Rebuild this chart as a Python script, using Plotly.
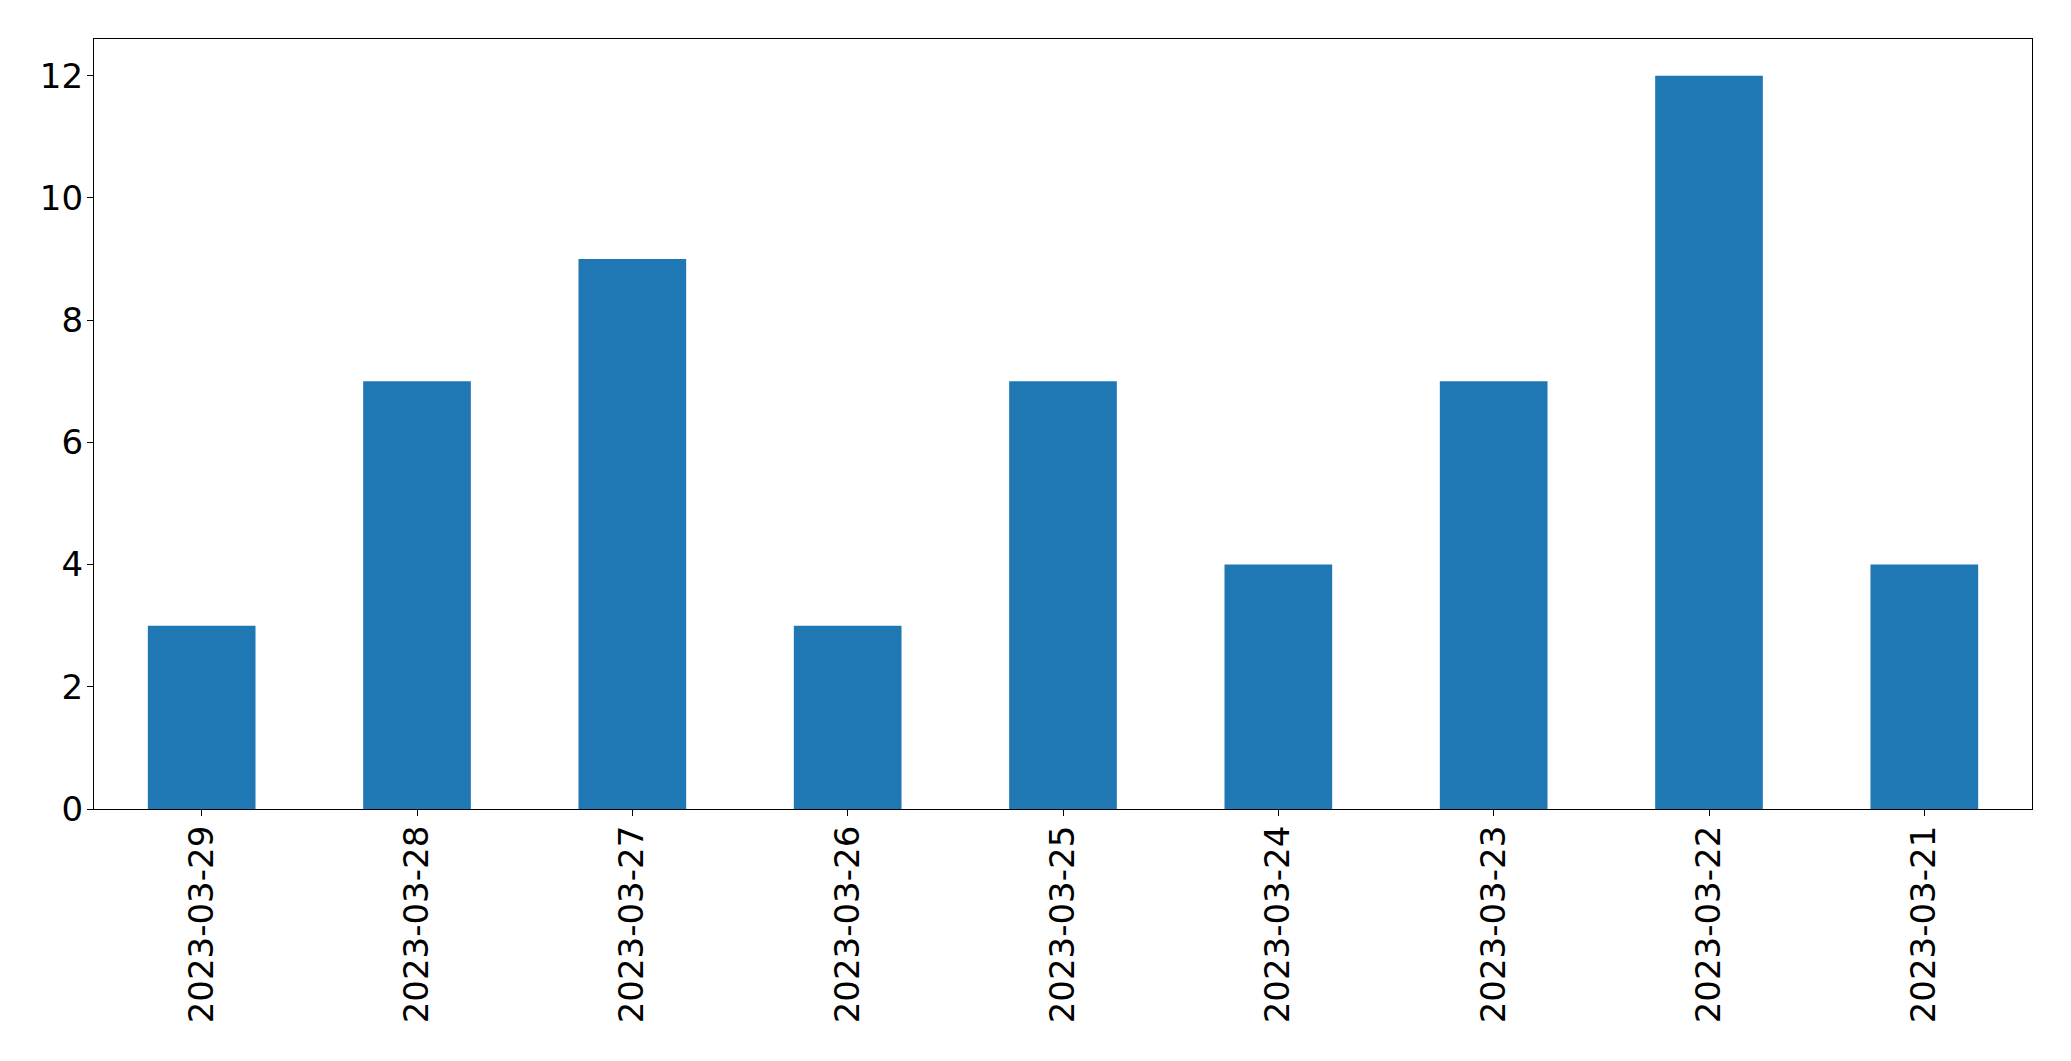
import plotly.graph_objects as go

dates = ["2023-03-29", "2023-03-28", "2023-03-27", "2023-03-26", "2023-03-25",
         "2023-03-24", "2023-03-23", "2023-03-22", "2023-03-21"]
counts = [3, 7, 9, 3, 7, 4, 7, 12, 4]
y_ticks = [0, 2, 4, 6, 8, 10, 12]

fig = go.Figure(go.Bar(x=dates, y=counts, marker=dict(color="#1f77b4", line=dict(width=0)),
                       width=0.5))

font = dict(family="DejaVu Sans", size=34, color="black")
# page body has an 8px margin; compensate so the plot area lands where the reference has it
fig.update_layout(
    width=2055, height=1045,
    margin=dict(l=86, r=31, t=31, b=244),
    paper_bgcolor="white", plot_bgcolor="white",
    showlegend=False,
    font=font,
)
fig.update_xaxes(type="category", range=[-0.5, 8.5], tickangle=-90,
                 showline=True, linecolor="black", linewidth=1.3, mirror=True,
                 ticks="outside", ticklen=6, tickwidth=1.3, tickcolor="black",
                 showgrid=False, zeroline=False, tickfont=font, ticklabelstandoff=-4)
fig.update_yaxes(range=[0, 12.6], tickvals=y_ticks,
                 showline=True, linecolor="black", linewidth=1.3, mirror=True,
                 ticks="outside", ticklen=6, tickwidth=1.3, tickcolor="black",
                 showgrid=False, zeroline=False, tickfont=font, ticklabelstandoff=-3)

fig.write_html("out.html")
